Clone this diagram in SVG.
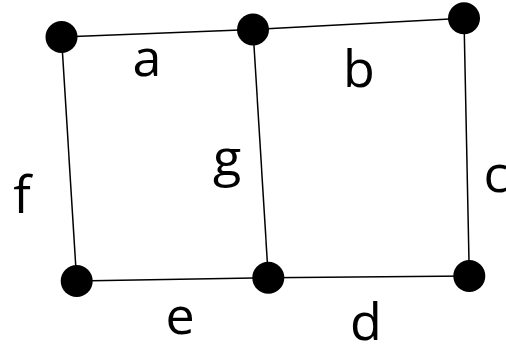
<svg xmlns="http://www.w3.org/2000/svg" width="506" height="347" viewBox="0 0 506 347">
<style>
.e{stroke:#000;stroke-width:1.5;fill:none}
.n{fill:#000}
.l{font-family:"Open Sans","Liberation Sans",sans-serif;font-size:52px;fill:#000;text-anchor:middle}
</style>
<rect width="506" height="347" fill="#fff"/>
<g id="edges">
<line class="e" x1="61.5" y1="37" x2="253" y2="29.5"/>
<line class="e" x1="253" y1="29.5" x2="464" y2="18.3"/>
<line class="e" x1="464" y1="18.3" x2="469.3" y2="276"/>
<line class="e" x1="268.3" y1="277.7" x2="469.3" y2="276"/>
<line class="e" x1="76.7" y1="281" x2="268.3" y2="277.7"/>
<line class="e" x1="61.5" y1="37" x2="76.7" y2="281"/>
<line class="e" x1="253" y1="29.5" x2="268.3" y2="277.7"/>
</g>
<g id="n1"><circle class="n" cx="61.5" cy="37" r="16"/></g>
<g id="n2"><circle class="n" cx="253" cy="29.5" r="16"/></g>
<g id="n3"><circle class="n" cx="464" cy="18.3" r="16"/></g>
<g id="n4"><circle class="n" cx="76.7" cy="281" r="16"/></g>
<g id="n5"><circle class="n" cx="268.3" cy="277.7" r="16"/></g>
<g id="n6"><circle class="n" cx="469.3" cy="276" r="16"/></g>
<g id="labels">
<text class="l" x="147" y="76">a</text>
<text class="l" x="359" y="87">b</text>
<text class="l" x="496" y="192">c</text>
<text class="l" x="366" y="340">d</text>
<text class="l" x="180" y="334">e</text>
<text class="l" x="22" y="213">f</text>
<text class="l" x="227" y="176">g</text>
</g>
</svg>
